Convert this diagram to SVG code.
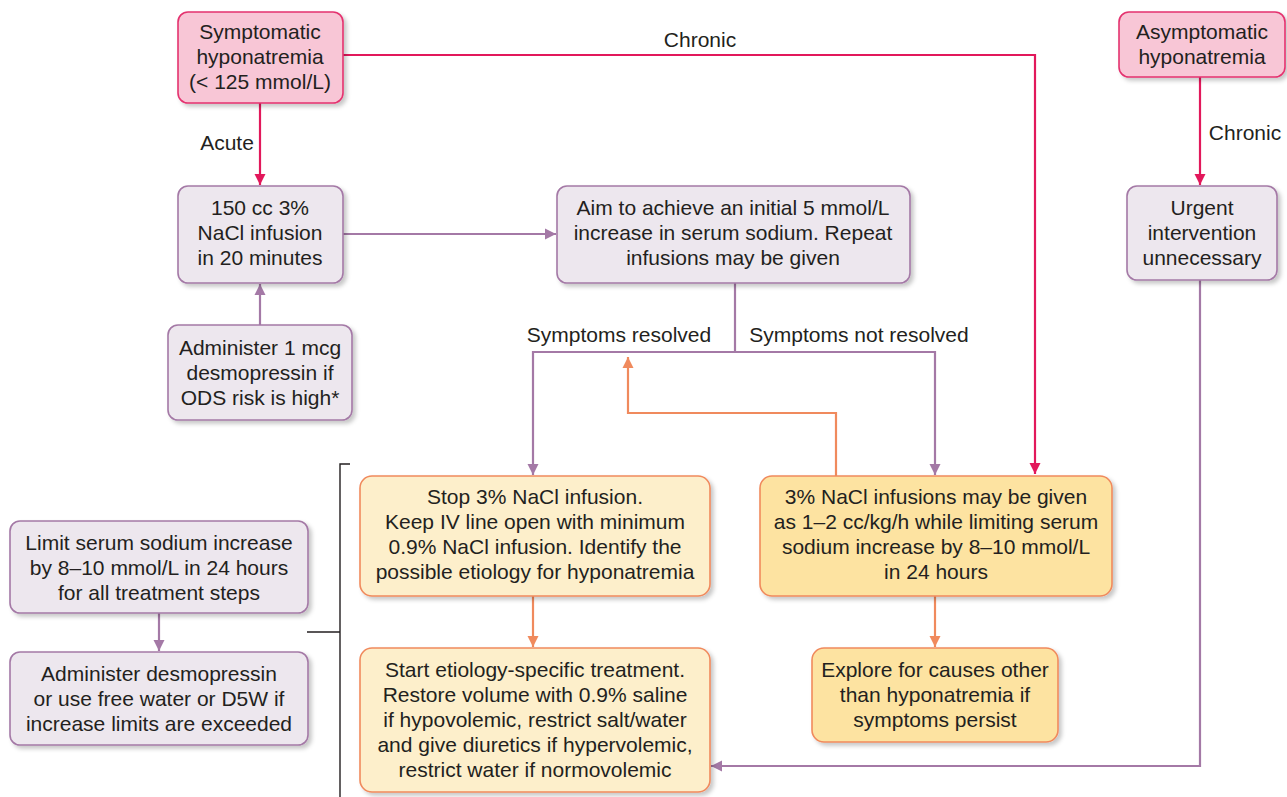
<svg xmlns="http://www.w3.org/2000/svg" width="1287" height="797" viewBox="0 0 1287 797">
<defs>
<filter id="sh" x="-10%" y="-10%" width="130%" height="130%">
<feDropShadow dx="3" dy="3" stdDeviation="2" flood-color="#000" flood-opacity="0.22"/>
</filter>
<marker id="ap" markerUnits="userSpaceOnUse" markerWidth="12" markerHeight="12" refX="11" refY="6" orient="auto"><path d="M0,0.5 L11,6 L0,11.5 Z" fill="#e2185b"/></marker>
<marker id="au" markerUnits="userSpaceOnUse" markerWidth="12" markerHeight="12" refX="11" refY="6" orient="auto"><path d="M0,0.5 L11,6 L0,11.5 Z" fill="#a479a6"/></marker>
<marker id="ao" markerUnits="userSpaceOnUse" markerWidth="12" markerHeight="12" refX="11" refY="6" orient="auto"><path d="M0,0.5 L11,6 L0,11.5 Z" fill="#f08a5d"/></marker>
</defs>
<style>
text{font-family:"Liberation Sans",Arial,sans-serif;font-size:21px;fill:#231f20;text-anchor:middle}
.pk{fill:#f8c6d6;stroke:#e4336f;stroke-width:1.6;filter:url(#sh)}
.pu{fill:#ede7ee;stroke:#a479a6;stroke-width:1.6;filter:url(#sh)}
.y1{fill:#fdefcb;stroke:#f08a5d;stroke-width:1.6;filter:url(#sh)}
.y2{fill:#fde3a1;stroke:#f08a5d;stroke-width:1.6;filter:url(#sh)}
.cp{fill:none;stroke:#e2185b;stroke-width:2.2;marker-end:url(#ap)}
.cu{fill:none;stroke:#a479a6;stroke-width:2.2}
.cua{fill:none;stroke:#a479a6;stroke-width:2.2;marker-end:url(#au)}
.co{fill:none;stroke:#f08a5d;stroke-width:2.2;marker-end:url(#ao)}
.br{fill:none;stroke:#231f20;stroke-width:1.4}
</style>

<g id="connectors">
<path class="cp" d="M343,55 H1035 V474"/>
<path class="cp" d="M260,103 V185"/>
<path class="cp" d="M1200,77 V185"/>
<path class="cua" d="M343,234 H556"/>
<path class="cua" d="M260,325 V284"/>
<path class="cu" d="M735,283 V352"/>
<path class="cua" d="M735,352 H533 V475"/>
<path class="cua" d="M735,352 H935 V475"/>
<path class="co" d="M836,476 V413 H628 V357"/>
<path class="co" d="M533,596 V647"/>
<path class="co" d="M935,596 V647"/>
<path class="cua" d="M1200,280 V766 H711"/>
<path class="cua" d="M159,613 V651"/>
<path class="br" d="M350,464 H340 V797 M307,632 H340"/>
<text x="700" y="47">Chronic</text>
<text x="227" y="150">Acute</text>
<text x="1245" y="140">Chronic</text>
<text x="619" y="342">Symptoms resolved</text>
<text x="859" y="342">Symptoms not resolved</text>
</g>

<g id="n1"><rect class="pk" x="178" y="12" width="165" height="91" rx="10"/>
<text x="260" y="39">Symptomatic</text><text x="260" y="64">hyponatremia</text><text x="260" y="89">(&lt; 125 mmol/L)</text></g>

<g id="n2"><rect class="pk" x="1119" y="12" width="166" height="65" rx="10"/>
<text x="1202" y="39">Asymptomatic</text><text x="1202" y="64">hyponatremia</text></g>

<g id="n3"><rect class="pu" x="178" y="186" width="165" height="97" rx="10"/>
<text x="260" y="215">150 cc 3%</text><text x="260" y="240">NaCl infusion</text><text x="260" y="265">in 20 minutes</text></g>

<g id="n4"><rect class="pu" x="557" y="186" width="353" height="97" rx="10"/>
<text x="733" y="215">Aim to achieve an initial 5 mmol/L</text><text x="733" y="240">increase in serum sodium. Repeat</text><text x="733" y="265">infusions may be given</text></g>

<g id="n5"><rect class="pu" x="168" y="325" width="184" height="95" rx="10"/>
<text x="260" y="355">Administer 1 mcg</text><text x="260" y="380">desmopressin if</text><text x="260" y="405">ODS risk is high*</text></g>

<g id="n6"><rect class="pu" x="1127" y="186" width="150" height="94" rx="10"/>
<text x="1202" y="215">Urgent</text><text x="1202" y="240">intervention</text><text x="1202" y="265">unnecessary</text></g>

<g id="n7"><rect class="y1" x="360" y="476" width="350" height="120" rx="12"/>
<text x="535" y="504">Stop 3% NaCl infusion.</text><text x="535" y="529">Keep IV line open with minimum</text><text x="535" y="554">0.9% NaCl infusion. Identify the</text><text x="535" y="579">possible etiology for hyponatremia</text></g>

<g id="n8"><rect class="y2" x="760" y="476" width="352" height="120" rx="12"/>
<text x="936" y="504">3% NaCl infusions may be given</text><text x="936" y="529">as 1–2 cc/kg/h while limiting serum</text><text x="936" y="554">sodium increase by 8–10 mmol/L</text><text x="936" y="579">in 24 hours</text></g>

<g id="n9"><rect class="pu" x="10" y="521" width="298" height="92" rx="10"/>
<text x="159" y="550">Limit serum sodium increase</text><text x="159" y="575">by 8–10 mmol/L in 24 hours</text><text x="159" y="600">for all treatment steps</text></g>

<g id="n10"><rect class="pu" x="10" y="652" width="298" height="93" rx="10"/>
<text x="159" y="681">Administer desmopressin</text><text x="159" y="706">or use free water or D5W if</text><text x="159" y="731">increase limits are exceeded</text></g>

<g id="n11"><rect class="y1" x="360" y="648" width="350" height="144" rx="12"/>
<text x="535" y="677">Start etiology-specific treatment.</text><text x="535" y="702">Restore volume with 0.9% saline</text><text x="535" y="727">if hypovolemic, restrict salt/water</text><text x="535" y="752">and give diuretics if hypervolemic,</text><text x="535" y="777">restrict water if normovolemic</text></g>

<g id="n12"><rect class="y2" x="812" y="648" width="246" height="94" rx="12"/>
<text x="935" y="677">Explore for causes other</text><text x="935" y="702">than hyponatremia if</text><text x="935" y="727">symptoms persist</text></g>
</svg>
